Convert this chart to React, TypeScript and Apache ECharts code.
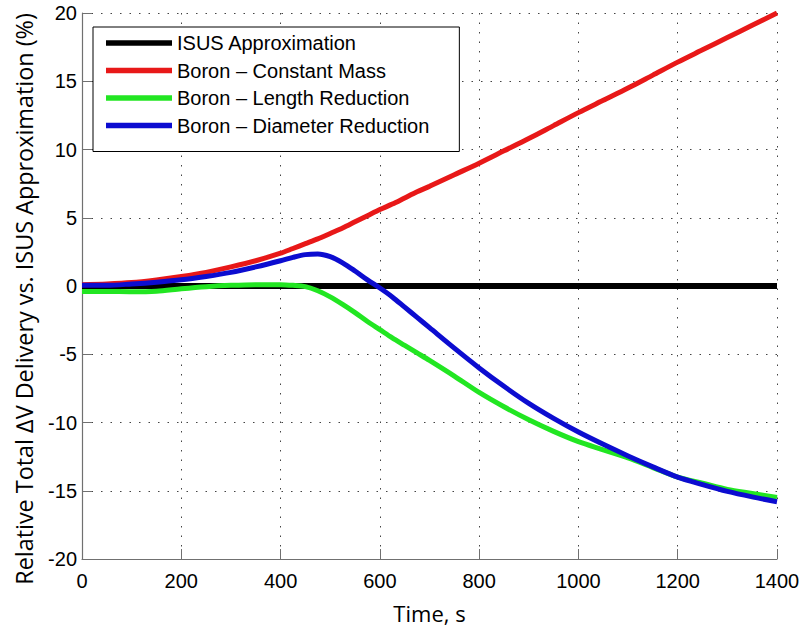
import React, { useEffect, useRef } from "react";
import * as echarts from "echarts";

const times = [0, 50, 100, 150, 200, 250, 300, 350, 400, 425, 450, 475, 500, 525, 550, 575, 600, 625, 650, 675, 700, 750, 800, 850, 900, 950, 1000, 1050, 1100, 1150, 1200, 1250, 1300, 1350, 1400];
const isus = times.map(() => 0);
const constantMass = [0.1, 0.15, 0.25, 0.45, 0.7, 1.0, 1.4, 1.85, 2.4, 2.75, 3.1, 3.45, 3.85, 4.25, 4.7, 5.15, 5.6, 6.0, 6.45, 6.9, 7.3, 8.15, 9.0, 9.9, 10.8, 11.75, 12.7, 13.6, 14.5, 15.45, 16.4, 17.3, 18.2, 19.1, 20.0];
const lengthReduction = [-0.4, -0.4, -0.42, -0.38, -0.2, -0.05, 0.05, 0.1, 0.1, 0.05, -0.05, -0.35, -0.8, -1.35, -1.95, -2.6, -3.2, -3.8, -4.35, -4.9, -5.45, -6.6, -7.8, -8.85, -9.8, -10.65, -11.4, -12.0, -12.6, -13.3, -14.0, -14.45, -14.9, -15.2, -15.5];
const diameterReduction = [0.05, 0.05, 0.15, 0.28, 0.45, 0.7, 1.0, 1.4, 1.85, 2.1, 2.3, 2.35, 2.15, 1.7, 1.1, 0.45, -0.15, -0.8, -1.55, -2.3, -3.05, -4.55, -6.0, -7.35, -8.6, -9.7, -10.7, -11.6, -12.45, -13.25, -14.0, -14.55, -15.05, -15.45, -15.8];

const seriesNames = ["ISUS Approximation", "Boron \u2013 Constant Mass", "Boron \u2013 Length Reduction", "Boron \u2013 Diameter Reduction"];
const seriesColors = ["#000000", "#e81818", "#22e622", "#0c0cd0"];
const seriesWidths = [6, 5, 5, 5];
const seriesValues = [isus, constantMass, lengthReduction, diameterReduction];

const xTitle = "Time, s";
const yTitle = "Relative Total \u2206V Delivery vs. ISUS Approximation (%)";

export default function App() {
  const ref = useRef<HTMLDivElement>(null);
  useEffect(() => {
    document.body.style.margin = "0";
    const chart = echarts.init(ref.current!, null, { renderer: "svg" });
    const gridLine = { show: true, lineStyle: { color: "#444", width: 1, type: [1.5, 8] as any } };
    chart.setOption({
      animation: false,
      backgroundColor: "#fff",
      grid: { left: 82, right: 27, top: 13, bottom: 71 },
      legend: {
        orient: "vertical",
        left: 93,
        top: 27,
        padding: [6, 30, 16, 13],
        itemGap: 7.5,
        itemWidth: 66,
        itemHeight: 5.5,
        icon: "rect",
        borderColor: "#000",
        borderWidth: 1,
        backgroundColor: "#fff",
        itemStyle: { borderWidth: 0 },
        textStyle: { fontFamily: "Liberation Sans", fontSize: 20, color: "#000", lineHeight: 20, padding: [0, 0, 0, 0] },
        data: seriesNames,
      },
      xAxis: {
        type: "value",
        min: 0,
        max: 1400,
        interval: 200,
        name: xTitle,
        nameLocation: "middle",
        nameGap: 43,
        nameTextStyle: { fontFamily: "Open Sans", fontSize: 22, color: "#000" },
        axisLine: { show: true, onZero: false, lineStyle: { color: "#707070", width: 1.2 } },
        axisTick: { show: true, inside: true, length: 10, lineStyle: { color: "#707070" } },
        axisLabel: { margin: 12, fontFamily: "Liberation Sans", fontSize: 20, color: "#000", formatter: (v: number) => String(v) },
        splitLine: gridLine,
      },
      yAxis: {
        type: "value",
        min: -20,
        max: 20,
        interval: 5,
        axisLine: { show: true, onZero: false, lineStyle: { color: "#707070", width: 1.2 } },
        axisTick: { show: true, inside: true, length: 10, lineStyle: { color: "#707070" } },
        axisLabel: { margin: 5, fontFamily: "Liberation Sans", fontSize: 20, color: "#000", formatter: (v: number) => String(v) },
        splitLine: gridLine,
      },
      graphic: [
        {
          type: "text",
          x: 24,
          y: 299,
          rotation: Math.PI / 2,
          style: {
            text: yTitle,
            fontFamily: "Open Sans",
            fontSize: 23.4,
            fill: "#000",
            textAlign: "center",
            textVerticalAlign: "middle",
          },
        },
      ],
      series: seriesNames.map((name, i) => ({
        name,
        type: "line",
        showSymbol: false,
        symbol: "none",
        smooth: 0.3,
        color: seriesColors[i],
        lineStyle: { color: seriesColors[i], width: seriesWidths[i] },
        data: times.map((t, j) => [t, seriesValues[i][j]]),
        z: 2 + i,
      })),
    });
    return () => chart.dispose();
  }, []);
  return <div ref={ref} style={{ width: 804, height: 630 }} />;
}
